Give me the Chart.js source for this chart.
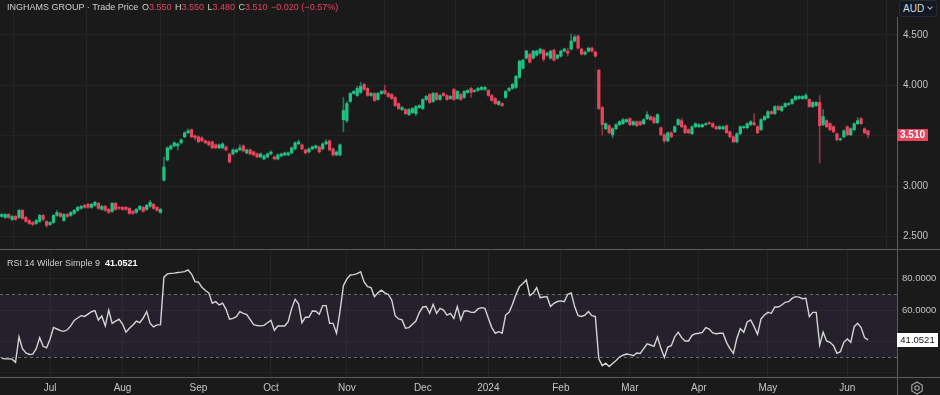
<!DOCTYPE html>
<html>
<head>
<meta charset="utf-8">
<script src="https://cdn.jsdelivr.net/npm/chart.js@4.4.1/dist/chart.umd.min.js"></script>
<style>
  html, body { margin: 0; padding: 0; background: #1a1a1a; }
  #wrap { position: relative; width: 940px; height: 395px; background: #1a1a1a; overflow: hidden;
          font-family: 'Liberation Sans', Arial, sans-serif; }
  canvas { position: absolute; left: 0; }
  .hdr { position: absolute; left: 7px; top: 2px; font-size: 9px; line-height: 11px; color: #cfcfcf; white-space: nowrap; }
  .hdr .v { color: #e8455f; }
  .hdr .k { margin-left: 1px; }
  .rsihdr { position: absolute; left: 7px; top: 258px; font-size: 9px; line-height: 11px; color: #cfcfcf; white-space: nowrap; }
  .rsihdr b { color: #ffffff; margin-left: 5px; }
  .aud { position: absolute; left: 899px; top: 0; width: 38px; height: 17px; box-sizing: border-box;
         background: #141823; border: 1px solid #262b38; border-radius: 3px; color: #d6d8df;
         font-size: 10px; line-height: 15px; padding-left: 3px; }
  .aud i { position: absolute; right: 4px; top: 4px; width: 3px; height: 3px;
           border-right: 1px solid #b0b3bc; border-bottom: 1px solid #b0b3bc; transform: rotate(45deg); }
  .gear { position: absolute; left: 910px; top: 381px; }
</style>
</head>
<body>
<div id="wrap">
  <canvas id="price" width="940" height="249" style="top:0"></canvas>
  <canvas id="rsi" width="940" height="146" style="top:249px"></canvas>
  <div class="hdr">INGHAMS GROUP · Trade Price
    <span class="k">O</span><span class="v">3.550</span>
    <span class="k">H</span><span class="v">3.550</span>
    <span class="k">L</span><span class="v">3.480</span>
    <span class="k">C</span><span class="v">3.510</span>
    <span class="v k">−0.020 (−0.57%)</span></div>
  <div class="rsihdr">RSI 14 Wilder Simple 9<b>41.0521</b></div>
  <div class="aud">AUD<i></i></div>
  <svg class="gear" width="14" height="14" viewBox="0 0 14 14">
    <polygon points="7,1 12.2,4 12.2,10 7,13 1.8,10 1.8,4" fill="none" stroke="#a8a8a8" stroke-width="1.1"/>
    <circle cx="7" cy="7" r="2.2" fill="none" stroke="#a8a8a8" stroke-width="1.1"/>
  </svg>
</div>
<script>
// daily candles, Jun 2023 - Jun 2024
const opens = [
  2.70,2.69,2.72,2.67,2.70,2.69,2.76,2.69,2.66,2.64, 2.63,2.65,2.71,2.65,2.62,2.64,2.71,2.73,2.66,2.72,
  2.71,2.73,2.76,2.78,2.81,2.82,2.79,2.81,2.83,2.77, 2.80,2.77,2.75,2.83,2.79,2.79,2.79,2.78,2.75,2.74,
  2.77,2.79,2.77,2.80,2.82,2.79,2.74,3.06,3.26,3.37, 3.40,3.40,3.43,3.49,3.53,3.56,3.50,3.49,3.48,3.45,
  3.44,3.44,3.41,3.38,3.38,3.39,3.32,3.32,3.34,3.36, 3.40,3.33,3.36,3.34,3.32,3.29,3.27,3.29,3.32,3.29,
  3.27,3.30,3.31,3.31,3.33,3.37,3.42,3.41,3.36,3.34, 3.37,3.38,3.39,3.37,3.42,3.45,3.37,3.31,3.31,3.66,
  3.65,3.84,3.92,3.90,3.93,4.01,3.97,3.90,3.92,3.86, 3.92,3.95,3.92,3.91,3.88,3.82,3.76,3.76,3.71,3.73,
  3.72,3.78,3.77,3.86,3.91,3.84,3.92,3.86,3.92,3.90, 3.87,3.96,3.87,3.91,3.88,3.93,3.97,3.94,3.95,3.96,
  3.96,3.95,3.90,3.87,3.81,3.82,3.88,3.95,3.97,3.98, 4.08,4.17,4.27,4.31,4.27,4.30,4.32,4.35,4.30,4.27,
  4.35,4.27,4.29,4.34,4.34,4.36,4.44,4.49,4.36,4.31, 4.34,4.37,4.33,4.15,3.78,3.57,3.60,3.51,3.57,3.61,
  3.62,3.64,3.67,3.61,3.64,3.64,3.62,3.67,3.69,3.68, 3.63,3.58,3.51,3.45,3.53,3.54,3.61,3.65,3.60,3.56,
  3.52,3.59,3.59,3.59,3.61,3.63,3.62,3.59,3.57,3.57, 3.60,3.54,3.49,3.44,3.52,3.58,3.58,3.61,3.63,3.59,
  3.56,3.66,3.68,3.74,3.72,3.79,3.75,3.79,3.81,3.82, 3.86,3.87,3.87,3.87,3.86,3.79,3.80,3.83,3.61,3.65,
  3.62,3.59,3.52,3.46,3.49,3.59,3.51,3.56,3.62,3.67, 3.57,3.55
];
const highs = [
  2.73,2.73,2.73,2.71,2.71,2.77,2.77,2.70,2.67,2.65, 2.67,2.72,2.72,2.66,2.65,2.72,2.76,2.74,2.73,2.73,
  2.75,2.77,2.80,2.81,2.82,2.83,2.83,2.85,2.84,2.81, 2.81,2.78,2.84,2.84,2.80,2.80,2.80,2.79,2.76,2.78,
  2.81,2.80,2.82,2.86,2.83,2.80,2.78,3.29,3.39,3.41, 3.44,3.43,3.47,3.54,3.57,3.57,3.51,3.50,3.49,3.46,
  3.45,3.45,3.42,3.42,3.43,3.40,3.33,3.37,3.37,3.41, 3.41,3.37,3.37,3.35,3.33,3.33,3.31,3.33,3.35,3.30,
  3.32,3.33,3.34,3.34,3.39,3.44,3.46,3.42,3.37,3.38, 3.40,3.41,3.40,3.43,3.46,3.46,3.38,3.35,3.42,3.88,
  3.84,3.93,3.95,3.99,4.03,4.02,3.98,3.93,3.93,3.93, 3.95,4.00,3.93,3.92,3.89,3.83,3.79,3.77,3.77,3.78,
  3.80,3.81,3.87,3.90,3.92,3.93,3.93,3.91,3.93,3.91, 3.90,3.97,3.95,3.92,3.95,3.96,3.98,3.96,3.98,3.99,
  3.99,3.96,3.91,3.88,3.85,3.83,3.95,3.98,4.02,4.10, 4.25,4.26,4.35,4.32,4.35,4.35,4.37,4.36,4.33,4.35,
  4.36,4.31,4.35,4.37,4.37,4.51,4.50,4.50,4.37,4.34, 4.38,4.38,4.34,4.16,3.79,3.63,3.61,3.58,3.62,3.65,
  3.67,3.67,3.68,3.65,3.65,3.65,3.67,3.74,3.70,3.69, 3.72,3.59,3.52,3.54,3.54,3.60,3.67,3.67,3.61,3.57,
  3.60,3.63,3.62,3.62,3.63,3.64,3.63,3.60,3.60,3.60, 3.61,3.55,3.50,3.53,3.60,3.60,3.63,3.65,3.72,3.60,
  3.67,3.70,3.75,3.75,3.80,3.80,3.80,3.83,3.83,3.87, 3.90,3.90,3.90,3.92,3.87,3.84,3.84,3.90,3.76,3.66,
  3.63,3.60,3.53,3.48,3.56,3.60,3.58,3.63,3.68,3.68, 3.58,3.55
];
const lows = [
  2.69,2.68,2.68,2.66,2.66,2.68,2.67,2.64,2.62,2.61, 2.62,2.64,2.66,2.59,2.61,2.63,2.70,2.69,2.65,2.69,
  2.70,2.72,2.75,2.77,2.78,2.78,2.78,2.80,2.77,2.76, 2.75,2.73,2.74,2.76,2.77,2.76,2.76,2.72,2.72,2.73,
  2.76,2.74,2.76,2.79,2.77,2.75,2.73,3.05,3.25,3.36, 3.39,3.36,3.42,3.48,3.52,3.48,3.46,3.43,3.44,3.42,
  3.40,3.37,3.37,3.37,3.37,3.35,3.23,3.31,3.33,3.35, 3.34,3.32,3.31,3.30,3.28,3.28,3.26,3.28,3.31,3.26,
  3.26,3.29,3.30,3.30,3.32,3.36,3.41,3.36,3.32,3.33, 3.36,3.37,3.33,3.36,3.41,3.35,3.30,3.30,3.30,3.54,
  3.63,3.83,3.91,3.89,3.92,3.95,3.89,3.89,3.84,3.85, 3.91,3.91,3.88,3.86,3.79,3.76,3.75,3.71,3.70,3.72,
  3.70,3.77,3.76,3.85,3.82,3.83,3.85,3.85,3.89,3.85, 3.86,3.85,3.86,3.85,3.87,3.92,3.88,3.93,3.94,3.95,
  3.95,3.89,3.84,3.81,3.80,3.79,3.87,3.94,3.96,3.97, 4.07,4.16,4.26,4.22,4.26,4.29,4.31,4.24,4.29,4.26,
  4.24,4.26,4.28,4.33,4.29,4.35,4.43,4.36,4.30,4.30, 4.33,4.33,4.28,3.76,3.51,3.56,3.52,3.48,3.56,3.60,
  3.61,3.63,3.60,3.60,3.59,3.60,3.61,3.66,3.65,3.62, 3.62,3.50,3.43,3.44,3.48,3.53,3.60,3.58,3.52,3.52,
  3.51,3.58,3.58,3.58,3.60,3.61,3.58,3.56,3.56,3.56, 3.52,3.48,3.43,3.43,3.51,3.57,3.57,3.60,3.60,3.52,
  3.55,3.65,3.67,3.71,3.71,3.75,3.74,3.78,3.80,3.81, 3.85,3.86,3.86,3.86,3.78,3.78,3.79,3.23,3.60,3.58,
  3.55,3.53,3.45,3.45,3.48,3.50,3.50,3.55,3.61,3.61, 3.52,3.48
];
const closes = [
  2.72,2.72,2.69,2.70,2.67,2.76,2.68,2.65,2.63,2.62, 2.66,2.71,2.67,2.61,2.64,2.71,2.74,2.70,2.72,2.70,
  2.74,2.76,2.79,2.80,2.79,2.79,2.82,2.84,2.78,2.80, 2.76,2.74,2.83,2.77,2.78,2.77,2.77,2.73,2.73,2.77,
  2.80,2.75,2.81,2.84,2.78,2.76,2.77,3.19,3.38,3.40, 3.43,3.42,3.46,3.53,3.55,3.49,3.48,3.44,3.45,3.43,
  3.41,3.38,3.38,3.41,3.42,3.36,3.24,3.36,3.36,3.38, 3.35,3.36,3.32,3.31,3.29,3.32,3.30,3.32,3.34,3.27,
  3.31,3.32,3.33,3.33,3.38,3.43,3.44,3.37,3.33,3.37, 3.39,3.40,3.34,3.42,3.44,3.36,3.31,3.34,3.41,3.75,
  3.82,3.92,3.94,3.97,3.99,3.96,3.90,3.92,3.85,3.92, 3.94,3.92,3.89,3.87,3.80,3.77,3.78,3.72,3.76,3.77,
  3.79,3.80,3.86,3.89,3.83,3.92,3.86,3.90,3.90,3.86, 3.89,3.86,3.94,3.86,3.94,3.95,3.93,3.95,3.97,3.98,
  3.98,3.90,3.85,3.82,3.84,3.80,3.94,3.97,4.01,4.09, 4.24,4.25,4.34,4.23,4.34,4.34,4.36,4.26,4.32,4.34,
  4.25,4.30,4.34,4.36,4.32,4.44,4.48,4.37,4.31,4.33, 4.37,4.34,4.29,3.77,3.61,3.62,3.53,3.57,3.61,3.64,
  3.66,3.66,3.61,3.64,3.60,3.61,3.66,3.71,3.66,3.63, 3.71,3.51,3.45,3.53,3.49,3.59,3.66,3.59,3.53,3.53,
  3.59,3.62,3.61,3.61,3.62,3.62,3.59,3.57,3.59,3.59, 3.53,3.49,3.44,3.52,3.59,3.59,3.62,3.64,3.61,3.53,
  3.66,3.69,3.74,3.72,3.79,3.76,3.79,3.82,3.82,3.86, 3.89,3.89,3.89,3.90,3.79,3.83,3.83,3.60,3.69,3.59,
  3.56,3.54,3.46,3.47,3.55,3.51,3.57,3.62,3.65,3.62, 3.53,3.51
];
// RSI 14 (Wilder), one value per candle
const rsiValues = [
  29.3,29.0,29.0,28.8,26.8,43.0,35.5,32.8,31.8,32.0, 35.5,42.5,37.0,36.0,41.5,49.0,48.0,47.0,46.5,47.5,
  50.0,53.5,55.0,56.5,56.0,57.5,59.0,59.7,53.7,56.3, 50.0,60.0,51.6,53.0,54.2,51.2,46.0,48.5,50.6,53.0,
  52.1,55.0,59.1,51.6,49.3,50.6,50.8,81.0,83.1,83.4, 83.6,84.0,84.2,84.5,85.6,83.0,78.2,77.8,74.5,72.5,
  71.0,64.4,65.4,63.3,64.4,60.5,54.2,54.8,55.9,59.1, 58.0,57.2,54.0,50.8,50.2,50.0,50.3,52.0,53.5,47.2,
  49.9,49.9,49.9,52.7,61.0,66.9,64.0,52.0,55.5,55.5, 59.5,59.3,57.4,62.9,62.9,51.6,51.6,45.3,59.1,75.6,
  79.9,82.4,82.6,83.2,84.5,78.0,75.0,74.4,68.6,71.0, 72.7,71.0,70.0,66.5,56.5,54.4,53.8,48.5,48.9,51.0,
  53.1,58.5,62.0,62.3,58.0,63.7,58.0,61.2,60.1,56.9, 58.0,54.8,62.3,53.8,59.5,59.5,58.6,58.6,60.8,61.6,
  61.2,54.8,48.9,45.3,46.3,45.3,56.9,58.6,63.7,70.0, 75.0,77.0,79.2,69.3,70.8,74.4,68.0,68.4,68.6,62.3,
  64.4,65.5,65.9,65.4,70.1,71.0,62.3,56.5,56.0,56.9, 59.1,56.5,55.9,29.0,24.7,26.2,24.1,26.0,28.0,30.2,
  31.3,32.1,31.7,31.0,32.7,32.4,35.5,38.5,37.8,37.0, 43.0,35.7,29.9,36.5,37.4,43.0,46.0,42.5,40.4,40.4,
  44.0,45.0,45.3,45.9,48.9,48.0,45.5,45.0,45.3,45.3, 39.5,35.5,32.5,42.0,48.3,45.9,52.5,53.8,49.5,44.6,
  54.5,56.9,58.6,58.0,62.0,62.0,63.3,65.0,65.4,67.5, 68.6,68.3,67.3,67.6,55.9,58.6,58.6,37.8,45.9,40.4,
  39.5,37.4,32.5,33.6,39.5,41.7,39.5,49.5,51.6,48.9, 42.5,41.05
];
const monthTicks  = [14, 35, 57, 78, 100, 122, 141, 162, 182, 202, 222, 245];
const monthLabels = ['Jul', 'Aug', 'Sep', 'Oct', 'Nov', 'Dec', '2024', 'Feb', 'Mar', 'Apr', 'May', 'Jun'];
const priceTicks = [2.5, 3.0, 3.5, 4.0, 4.5];
const rsiTicks = [20, 40, 60, 80];
const rsiUpper = 70, rsiLower = 30;

const UP = '#22c285', DOWN = '#e8455f';
const UP_WICK = 'rgba(34,194,133,0.6)', DOWN_WICK = 'rgba(232,69,95,0.6)';
const GRID = '#252525', AXIS = '#5c5c5c', LABEL = '#c4c4c4';
const last = closes.length - 1;

Chart.defaults.font.family = "'Liberation Sans', Arial, sans-serif";
Chart.defaults.font.size = 10;
Chart.defaults.color = LABEL;

const isUp = i => closes[i] >= opens[i];
const noPad = s => { s.paddingTop = 0; s.paddingBottom = 0; s.paddingLeft = 0; s.paddingRight = 0; };
const xScale = (showLabels) => ({
  type: 'linear', min: -0.5, max: 259.4, offset: false,
  afterBuildTicks: s => { s.ticks = monthTicks.map(v => ({ value: v })); },
  afterFit: s => { s.height = showLabels ? 18 : 0; noPad(s); },
  grid: { color: GRID, drawTicks: false },
  border: { display: false },
  ticks: {
    display: showLabels, padding: 5, maxRotation: 0, autoSkip: false,
    callback: v => monthLabels[monthTicks.indexOf(v)]
  }
});

// price pane
new Chart(document.getElementById('price'), {
  type: 'bar',
  data: {
    datasets: [{
      label: 'wick',
      data: closes.map((c, i) => ({ x: i, y: [lows[i], highs[i]] })),
      backgroundColor: ctx => isUp(ctx.dataIndex) ? UP_WICK : DOWN_WICK,
      barThickness: 1, grouped: false, order: 2
    }, {
      label: 'body',
      data: closes.map((c, i) => ({ x: i, y: [opens[i], c] })),
      backgroundColor: ctx => isUp(ctx.dataIndex) ? UP : DOWN,
      barThickness: 2.6, minBarLength: 1, grouped: false, order: 1
    }]
  },
  options: {
    responsive: false, animation: false, devicePixelRatio: 1,
    layout: { padding: 0 },
    plugins: { legend: { display: false }, tooltip: { enabled: false } },
    scales: {
      x: xScale(false),
      y: {
        position: 'right', min: 2.377, max: 4.847,
        afterBuildTicks: s => { s.ticks = priceTicks.map(v => ({ value: v })); },
        afterFit: s => { s.width = 43; noPad(s); },
        grid: { color: GRID, drawTicks: false },
        border: { display: false },
        ticks: { padding: 6, callback: v => v === 3.5 ? '' : v.toFixed(3) }
      }
    }
  },
  plugins: [{
    id: 'priceDeco',
    afterDraw(chart) {
      const c = chart.ctx, a = chart.chartArea;
      c.save();
      c.strokeStyle = AXIS; c.lineWidth = 1;
      c.beginPath(); c.moveTo(a.right + 0.5, 17); c.lineTo(a.right + 0.5, chart.height); c.stroke();
      const y = chart.scales.y.getPixelForValue(closes[last]);
      c.fillStyle = DOWN;
      c.fillRect(a.right, Math.round(y) - 6, 31, 12);
      c.fillStyle = '#ffffff';
      c.font = "bold 10px 'Liberation Sans', Arial, sans-serif";
      c.textAlign = 'center'; c.textBaseline = 'middle';
      c.fillText(closes[last].toFixed(3), a.right + 15.5, Math.round(y) + 0.5);
      c.restore();
    }
  }]
});

// RSI pane
new Chart(document.getElementById('rsi'), {
  type: 'line',
  data: {
    datasets: [{
      data: rsiValues.map((v, i) => ({ x: i, y: v })),
      borderColor: '#d4d4d4', borderWidth: 1.4, pointRadius: 0, tension: 0
    }]
  },
  options: {
    responsive: false, animation: false, devicePixelRatio: 1,
    layout: { padding: { top: 1 } },
    plugins: { legend: { display: false }, tooltip: { enabled: false } },
    scales: {
      x: xScale(true),
      y: {
        position: 'right', min: 17.45, max: 98.3,
        afterBuildTicks: s => { s.ticks = rsiTicks.map(v => ({ value: v })); },
        afterFit: s => { s.width = 43; noPad(s); },
        grid: { color: GRID, drawTicks: false },
        border: { display: false },
        ticks: { padding: 5, font: { size: 9.5 }, callback: v => v === 20 ? '' : v.toFixed(4) }
      }
    }
  },
  plugins: [{
    id: 'rsiBand',
    beforeDatasetsDraw(chart) {
      const c = chart.ctx, a = chart.chartArea, ys = chart.scales.y;
      const yu = ys.getPixelForValue(rsiUpper), yl = ys.getPixelForValue(rsiLower);
      c.save();
      c.fillStyle = 'rgba(120, 90, 180, 0.12)';
      c.fillRect(a.left, yu, a.right - a.left, yl - yu);
      c.strokeStyle = '#6a6a6a'; c.lineWidth = 1; c.setLineDash([3, 3]);
      [yu, yl].forEach(y => {
        c.beginPath(); c.moveTo(a.left, Math.round(y) + 0.5); c.lineTo(a.right, Math.round(y) + 0.5); c.stroke();
      });
      c.restore();
    },
    afterDraw(chart) {
      const c = chart.ctx, a = chart.chartArea;
      c.save();
      c.strokeStyle = AXIS; c.lineWidth = 1;
      c.beginPath(); c.moveTo(0, 0.5); c.lineTo(chart.width, 0.5); c.stroke();
      c.beginPath(); c.moveTo(0, a.bottom + 0.5); c.lineTo(chart.width, a.bottom + 0.5); c.stroke();
      c.beginPath(); c.moveTo(a.right + 0.5, 0); c.lineTo(a.right + 0.5, chart.height); c.stroke();
      const v = rsiValues[last];
      const y = Math.round(chart.scales.y.getPixelForValue(v));
      c.fillStyle = '#ffffff';
      c.fillRect(a.right, y - 7, 41, 14);
      c.fillStyle = '#111111';
      c.font = "9.5px 'Liberation Sans', Arial, sans-serif";
      c.textAlign = 'center'; c.textBaseline = 'middle';
      c.fillText('41.0521', a.right + 20.5, y + 0.5);
      c.restore();
    }
  }]
});
</script>
</body>
</html>
